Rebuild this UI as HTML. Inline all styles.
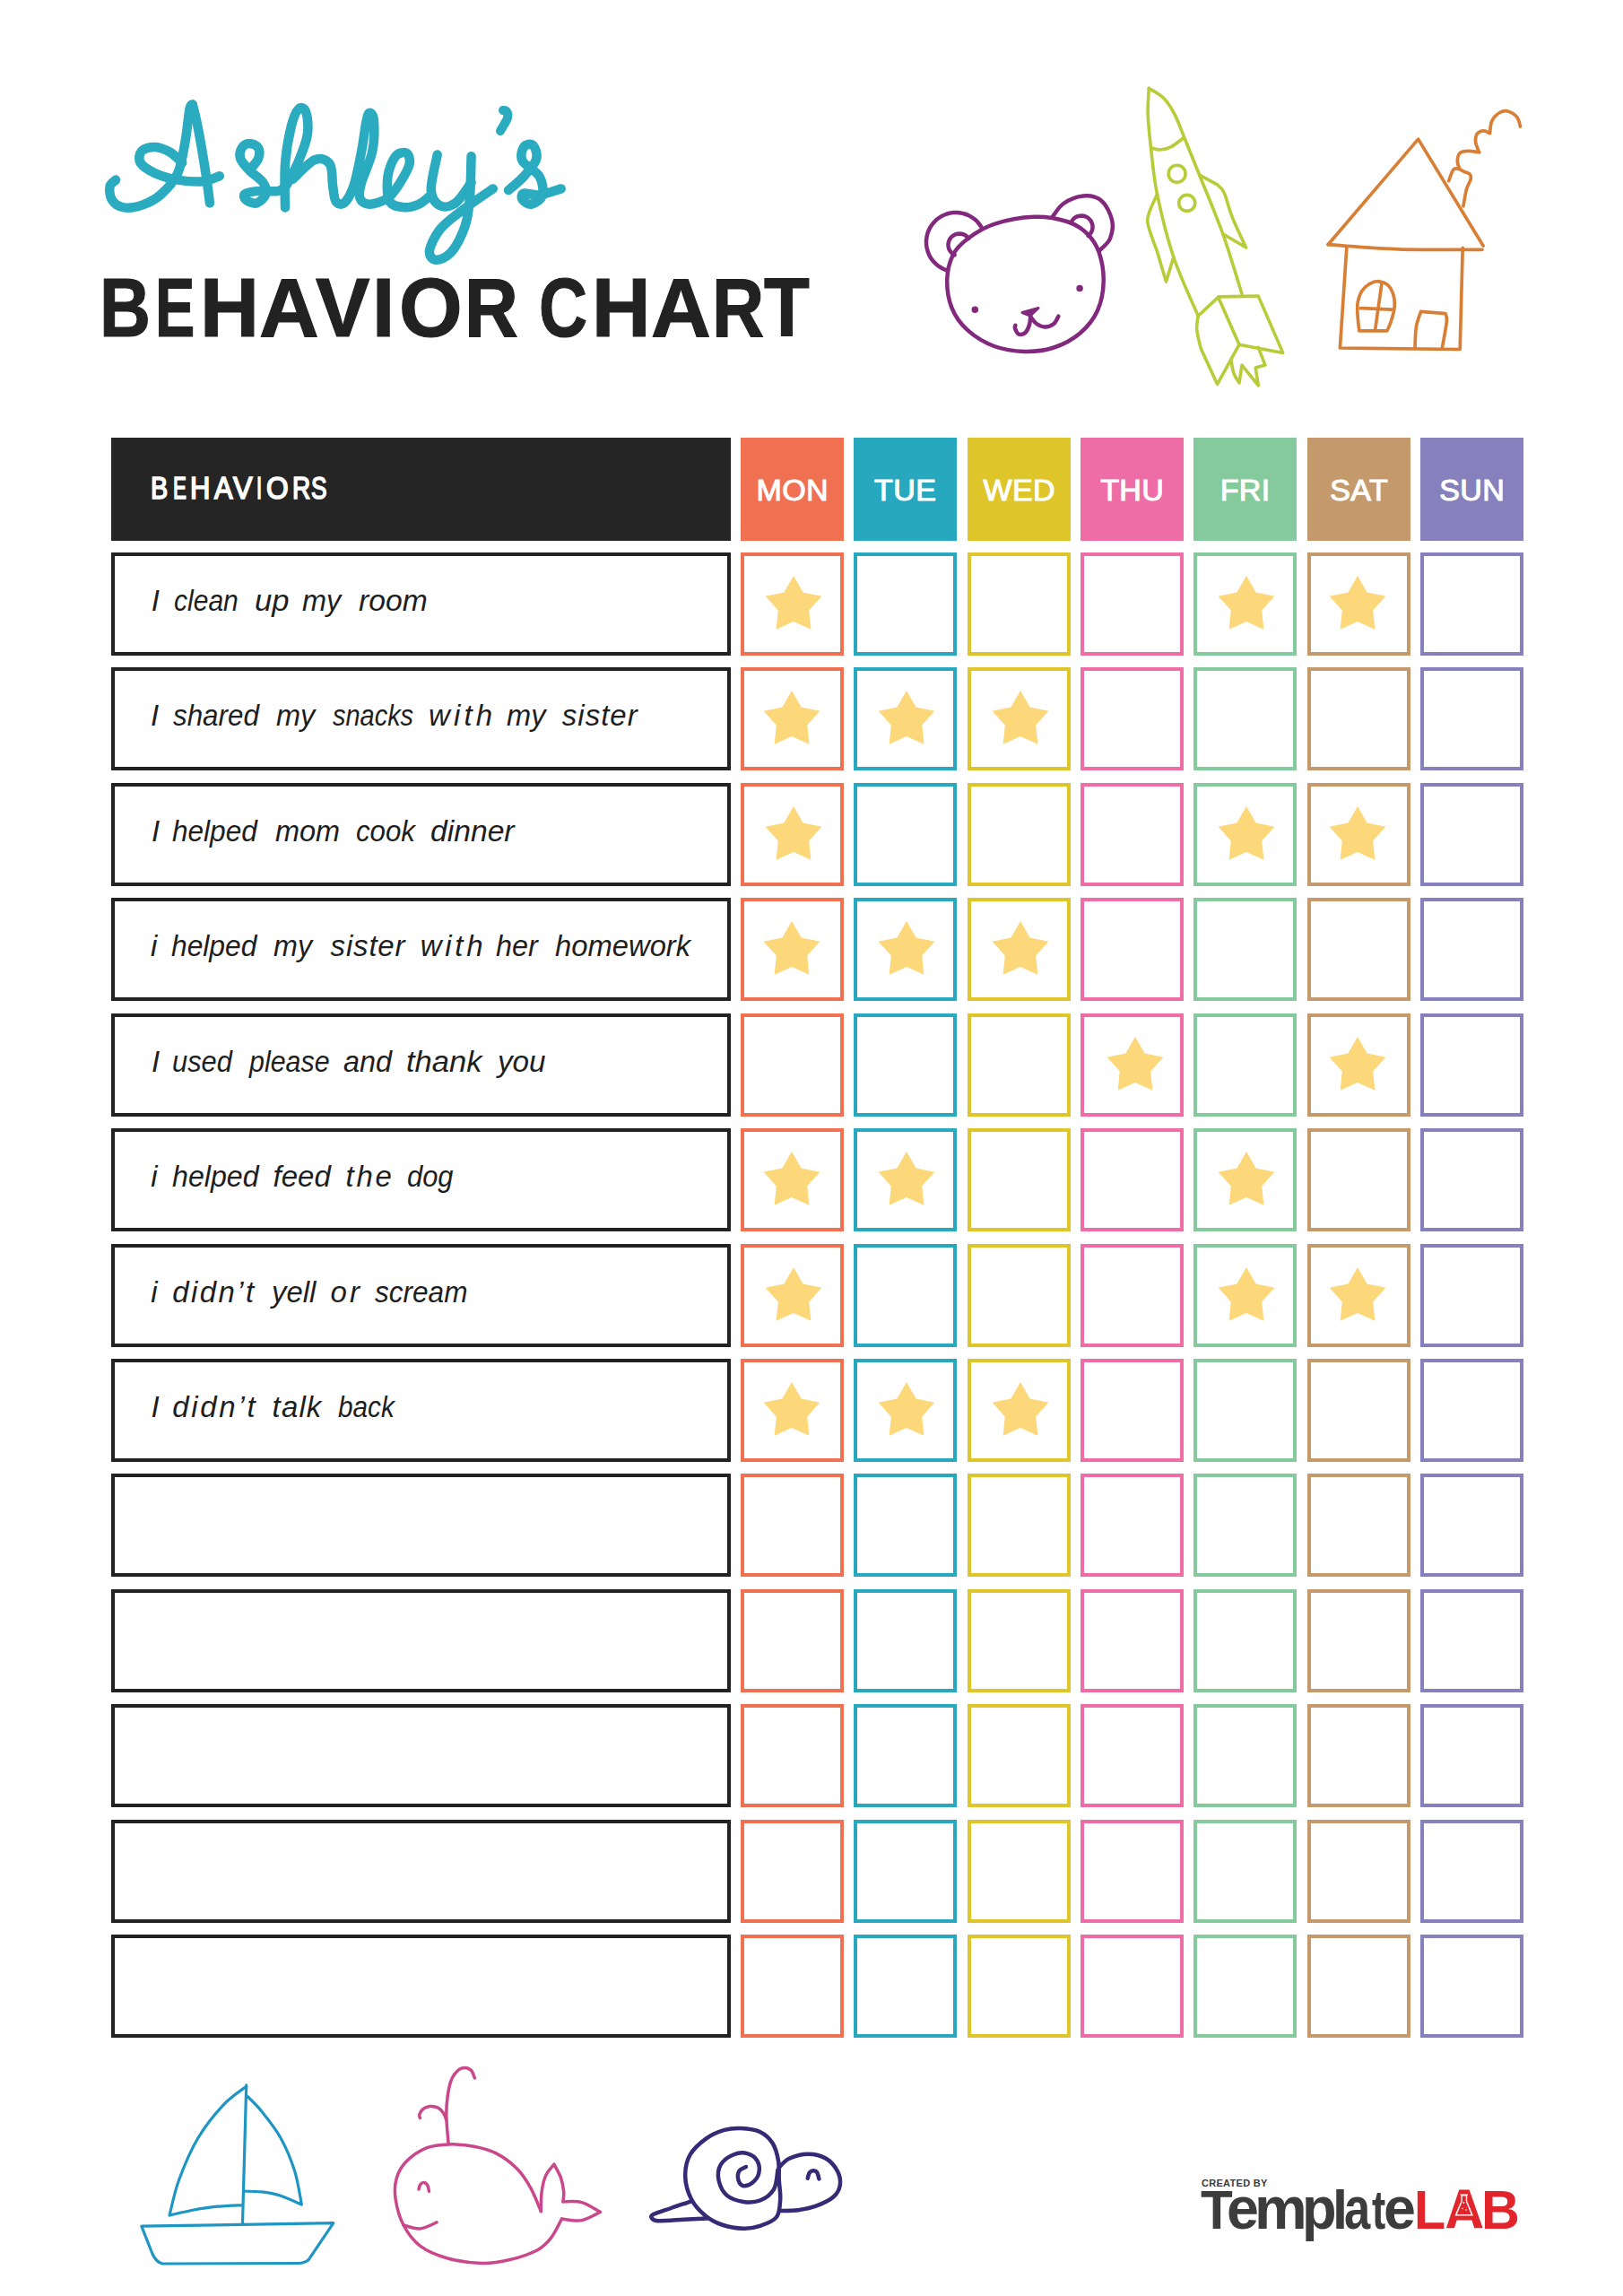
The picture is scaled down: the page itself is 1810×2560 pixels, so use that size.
<!DOCTYPE html>
<html><head><meta charset="utf-8"><style>
html,body{margin:0;padding:0;background:#fff;}
body{width:1810px;height:2560px;position:relative;overflow:hidden;font-family:"Liberation Sans",sans-serif;}
.hdr{position:absolute;background:#252525;}
.bh{position:absolute;left:43px;top:35.5px;color:#fff;font-weight:normal;-webkit-text-stroke:1.1px #fff;font-size:35px;line-height:40px;letter-spacing:-0.35px;}
.dh{position:absolute;top:488px;width:115px;height:115px;color:#fff;font-weight:normal;-webkit-text-stroke:1.1px #fff;font-size:34px;line-height:117px;text-align:center;letter-spacing:0.4px;text-indent:0.4px;}
.row{position:absolute;left:124px;width:691px;height:115px;box-sizing:border-box;border:4px solid #222;}
.bt{position:absolute;left:39.5px;top:30px;font-style:italic;font-size:33px;line-height:40px;color:#1e1e1e;letter-spacing:0.92px;word-spacing:3.7px;white-space:nowrap;}
.cell{position:absolute;width:115px;height:115px;box-sizing:border-box;border:4px solid;}
.star{position:absolute;}
.title{position:absolute;left:0;top:293px;width:1000px;height:100px;font-weight:bold;font-size:92px;line-height:100px;color:#222;white-space:nowrap;}
.title span{position:absolute;top:0;transform-origin:0 0;-webkit-text-stroke:1.2px #222;}
.lg1{position:absolute;left:1340px;top:2427px;font-weight:bold;font-size:11px;line-height:14px;color:#3a3a3a;letter-spacing:0.3px;}
.lg2{position:absolute;left:1339px;top:2431.5px;font-weight:bold;font-size:62px;line-height:64px;color:#3c3c3c;letter-spacing:-2.6px;white-space:nowrap;}
.lab{color:#E1252B;letter-spacing:-3.5px;margin-left:-8px;}

.w{position:absolute;font-style:italic;font-size:33px;line-height:40px;color:#1e1e1e;white-space:nowrap;transform-origin:0 0;}

.bh2{position:absolute;left:0;top:523.5px;width:1px;height:40px;color:#fff;font-size:35px;line-height:40px;}
.bh2 span{position:absolute;top:0;transform-origin:0 0;-webkit-text-stroke:1.7px #fff;}

.lg3{position:absolute;top:2431.5px;font-weight:bold;font-size:62px;line-height:64px;color:#E1252B;transform-origin:0 0;}

.lg4{position:absolute;top:2431.5px;font-weight:bold;font-size:62px;line-height:64px;color:#3c3c3c;transform-origin:0 52.5px;}

</style></head><body>

<div class="title"><span style="left:110.9px;transform:scaleX(0.857)">B</span><span style="left:173.3px;transform:scaleX(0.723)">E</span><span style="left:222.8px;transform:scaleX(0.993)">H</span><span style="left:288.8px;transform:scaleX(1.003)">A</span><span style="left:352.0px;transform:scaleX(0.985)">V</span><span style="left:415.1px;transform:scaleX(0.986)">I</span><span style="left:444.7px;transform:scaleX(0.986)">O</span><span style="left:518.1px;transform:scaleX(0.900)">R</span><span style="left:601.3px;transform:scaleX(0.813)">C</span><span style="left:659.9px;transform:scaleX(0.985)">H</span><span style="left:725.8px;transform:scaleX(1.005)">A</span><span style="left:793.7px;transform:scaleX(0.876)">R</span><span style="left:851.6px;transform:scaleX(0.904)">T</span></div>
<div class="hdr" style="left:124px;top:488px;width:691px;height:115px"></div><div class="bh2"><span style="left:168.3px;transform:scaleX(0.821)">B</span><span style="left:192.6px;transform:scaleX(0.637)">E</span><span style="left:211.9px;transform:scaleX(0.885)">H</span><span style="left:238.8px;transform:scaleX(0.878)">A</span><span style="left:259.9px;transform:scaleX(0.922)">V</span><span style="left:285.9px;transform:scaleX(0.625)">I</span><span style="left:296.9px;transform:scaleX(0.904)">O</span><span style="left:325.8px;transform:scaleX(0.800)">R</span><span style="left:347.2px;transform:scaleX(0.750)">S</span></div>
<div class="dh" style="left:826px;background:#F07052">MON</div>
<div class="dh" style="left:952px;background:#27A8BE">TUE</div>
<div class="dh" style="left:1079px;background:#DEC52A">WED</div>
<div class="dh" style="left:1205px;background:#EE6DA6">THU</div>
<div class="dh" style="left:1331px;background:#84CA9C">FRI</div>
<div class="dh" style="left:1458px;background:#C49A6C">SAT</div>
<div class="dh" style="left:1584px;background:#8680BC">SUN</div>
<div class="row" style="top:616px"></div>
<span class="w" style="left:168.7px;top:650px;transform:scaleX(1.000);letter-spacing:0.00px">I</span>
<span class="w" style="left:193.5px;top:650px;transform:scaleX(0.910);letter-spacing:0.00px">clean</span>
<span class="w" style="left:283.6px;top:650px;transform:scaleX(1.047);letter-spacing:0.00px">up</span>
<span class="w" style="left:337.4px;top:650px;transform:scaleX(0.982);letter-spacing:0.00px">my</span>
<span class="w" style="left:400.4px;top:650px;transform:scaleX(1.020);letter-spacing:0.00px">room</span>
<div class="cell" style="left:826px;top:616px;border-color:#F07052"></div>
<svg class="star" style="left:850.9px;top:640.5px" width="68" height="68" viewBox="-34 -34 68 68"><polygon fill="#FDD87A" points="0,-33 10.6,-14.6 31.4,-10.2 17.2,5.6 19.4,26.7 0,18.1 -19.4,26.7 -17.2,5.6 -31.4,-10.2 -10.6,-14.6"/></svg>
<div class="cell" style="left:952px;top:616px;border-color:#27A8BE"></div>
<div class="cell" style="left:1079px;top:616px;border-color:#DEC52A"></div>
<div class="cell" style="left:1205px;top:616px;border-color:#EE6DA6"></div>
<div class="cell" style="left:1331px;top:616px;border-color:#84CA9C"></div>
<svg class="star" style="left:1355.5px;top:640.5px" width="68" height="68" viewBox="-34 -34 68 68"><polygon fill="#FDD87A" points="0,-33 10.6,-14.6 31.4,-10.2 17.2,5.6 19.4,26.7 0,18.1 -19.4,26.7 -17.2,5.6 -31.4,-10.2 -10.6,-14.6"/></svg>
<div class="cell" style="left:1458px;top:616px;border-color:#C49A6C"></div>
<svg class="star" style="left:1480.3px;top:640.5px" width="68" height="68" viewBox="-34 -34 68 68"><polygon fill="#FDD87A" points="0,-33 10.6,-14.6 31.4,-10.2 17.2,5.6 19.4,26.7 0,18.1 -19.4,26.7 -17.2,5.6 -31.4,-10.2 -10.6,-14.6"/></svg>
<div class="cell" style="left:1584px;top:616px;border-color:#8680BC"></div>
<div class="row" style="top:744px"></div>
<span class="w" style="left:168.1px;top:778px;transform:scaleX(1.000);letter-spacing:0.00px">I</span>
<span class="w" style="left:193.2px;top:778px;transform:scaleX(0.950);letter-spacing:0.00px">shared</span>
<span class="w" style="left:308.0px;top:778px;transform:scaleX(0.984);letter-spacing:0.00px">my</span>
<span class="w" style="left:371.0px;top:778px;transform:scaleX(0.877);letter-spacing:0.00px">snacks</span>
<span class="w" style="left:478.0px;top:778px;transform:scaleX(1.000);letter-spacing:4.13px">with</span>
<span class="w" style="left:564.8px;top:778px;transform:scaleX(0.987);letter-spacing:0.00px">my</span>
<span class="w" style="left:626.8px;top:778px;transform:scaleX(1.000);letter-spacing:1.00px">sister</span>
<div class="cell" style="left:826px;top:744px;border-color:#F07052"></div>
<svg class="star" style="left:848.7px;top:768.5px" width="68" height="68" viewBox="-34 -34 68 68"><polygon fill="#FDD87A" points="0,-33 10.6,-14.6 31.4,-10.2 17.2,5.6 19.4,26.7 0,18.1 -19.4,26.7 -17.2,5.6 -31.4,-10.2 -10.6,-14.6"/></svg>
<div class="cell" style="left:952px;top:744px;border-color:#27A8BE"></div>
<svg class="star" style="left:977.3px;top:768.5px" width="68" height="68" viewBox="-34 -34 68 68"><polygon fill="#FDD87A" points="0,-33 10.6,-14.6 31.4,-10.2 17.2,5.6 19.4,26.7 0,18.1 -19.4,26.7 -17.2,5.6 -31.4,-10.2 -10.6,-14.6"/></svg>
<div class="cell" style="left:1079px;top:744px;border-color:#DEC52A"></div>
<svg class="star" style="left:1103.7px;top:768.5px" width="68" height="68" viewBox="-34 -34 68 68"><polygon fill="#FDD87A" points="0,-33 10.6,-14.6 31.4,-10.2 17.2,5.6 19.4,26.7 0,18.1 -19.4,26.7 -17.2,5.6 -31.4,-10.2 -10.6,-14.6"/></svg>
<div class="cell" style="left:1205px;top:744px;border-color:#EE6DA6"></div>
<div class="cell" style="left:1331px;top:744px;border-color:#84CA9C"></div>
<div class="cell" style="left:1458px;top:744px;border-color:#C49A6C"></div>
<div class="cell" style="left:1584px;top:744px;border-color:#8680BC"></div>
<div class="row" style="top:873px"></div>
<span class="w" style="left:168.9px;top:907px;transform:scaleX(1.000);letter-spacing:0.00px">I</span>
<span class="w" style="left:192.0px;top:907px;transform:scaleX(0.956);letter-spacing:0.00px">helped</span>
<span class="w" style="left:307.4px;top:907px;transform:scaleX(0.983);letter-spacing:0.00px">mom</span>
<span class="w" style="left:397.1px;top:907px;transform:scaleX(0.946);letter-spacing:0.00px">cook</span>
<span class="w" style="left:480.4px;top:907px;transform:scaleX(1.020);letter-spacing:0.00px">dinner</span>
<div class="cell" style="left:826px;top:873px;border-color:#F07052"></div>
<svg class="star" style="left:850.9px;top:897.5px" width="68" height="68" viewBox="-34 -34 68 68"><polygon fill="#FDD87A" points="0,-33 10.6,-14.6 31.4,-10.2 17.2,5.6 19.4,26.7 0,18.1 -19.4,26.7 -17.2,5.6 -31.4,-10.2 -10.6,-14.6"/></svg>
<div class="cell" style="left:952px;top:873px;border-color:#27A8BE"></div>
<div class="cell" style="left:1079px;top:873px;border-color:#DEC52A"></div>
<div class="cell" style="left:1205px;top:873px;border-color:#EE6DA6"></div>
<div class="cell" style="left:1331px;top:873px;border-color:#84CA9C"></div>
<svg class="star" style="left:1355.5px;top:897.5px" width="68" height="68" viewBox="-34 -34 68 68"><polygon fill="#FDD87A" points="0,-33 10.6,-14.6 31.4,-10.2 17.2,5.6 19.4,26.7 0,18.1 -19.4,26.7 -17.2,5.6 -31.4,-10.2 -10.6,-14.6"/></svg>
<div class="cell" style="left:1458px;top:873px;border-color:#C49A6C"></div>
<svg class="star" style="left:1480.3px;top:897.5px" width="68" height="68" viewBox="-34 -34 68 68"><polygon fill="#FDD87A" points="0,-33 10.6,-14.6 31.4,-10.2 17.2,5.6 19.4,26.7 0,18.1 -19.4,26.7 -17.2,5.6 -31.4,-10.2 -10.6,-14.6"/></svg>
<div class="cell" style="left:1584px;top:873px;border-color:#8680BC"></div>
<div class="row" style="top:1001px"></div>
<span class="w" style="left:168.0px;top:1035px;transform:scaleX(1.000);letter-spacing:0.00px">i</span>
<span class="w" style="left:191.0px;top:1035px;transform:scaleX(0.962);letter-spacing:0.00px">helped</span>
<span class="w" style="left:305.4px;top:1035px;transform:scaleX(0.978);letter-spacing:0.00px">my</span>
<span class="w" style="left:368.6px;top:1035px;transform:scaleX(1.000);letter-spacing:0.82px">sister</span>
<span class="w" style="left:468.8px;top:1035px;transform:scaleX(1.000);letter-spacing:3.70px">with</span>
<span class="w" style="left:553.0px;top:1035px;transform:scaleX(0.980);letter-spacing:0.00px">her</span>
<span class="w" style="left:619.2px;top:1035px;transform:scaleX(0.993);letter-spacing:0.00px">homework</span>
<div class="cell" style="left:826px;top:1001px;border-color:#F07052"></div>
<svg class="star" style="left:848.7px;top:1025.5px" width="68" height="68" viewBox="-34 -34 68 68"><polygon fill="#FDD87A" points="0,-33 10.6,-14.6 31.4,-10.2 17.2,5.6 19.4,26.7 0,18.1 -19.4,26.7 -17.2,5.6 -31.4,-10.2 -10.6,-14.6"/></svg>
<div class="cell" style="left:952px;top:1001px;border-color:#27A8BE"></div>
<svg class="star" style="left:977.3px;top:1025.5px" width="68" height="68" viewBox="-34 -34 68 68"><polygon fill="#FDD87A" points="0,-33 10.6,-14.6 31.4,-10.2 17.2,5.6 19.4,26.7 0,18.1 -19.4,26.7 -17.2,5.6 -31.4,-10.2 -10.6,-14.6"/></svg>
<div class="cell" style="left:1079px;top:1001px;border-color:#DEC52A"></div>
<svg class="star" style="left:1103.7px;top:1025.5px" width="68" height="68" viewBox="-34 -34 68 68"><polygon fill="#FDD87A" points="0,-33 10.6,-14.6 31.4,-10.2 17.2,5.6 19.4,26.7 0,18.1 -19.4,26.7 -17.2,5.6 -31.4,-10.2 -10.6,-14.6"/></svg>
<div class="cell" style="left:1205px;top:1001px;border-color:#EE6DA6"></div>
<div class="cell" style="left:1331px;top:1001px;border-color:#84CA9C"></div>
<div class="cell" style="left:1458px;top:1001px;border-color:#C49A6C"></div>
<div class="cell" style="left:1584px;top:1001px;border-color:#8680BC"></div>
<div class="row" style="top:1130px"></div>
<span class="w" style="left:168.9px;top:1164px;transform:scaleX(1.000);letter-spacing:0.00px">I</span>
<span class="w" style="left:192.3px;top:1164px;transform:scaleX(0.934);letter-spacing:0.00px">used</span>
<span class="w" style="left:277.5px;top:1164px;transform:scaleX(0.921);letter-spacing:0.00px">please</span>
<span class="w" style="left:383.2px;top:1164px;transform:scaleX(0.980);letter-spacing:0.00px">and</span>
<span class="w" style="left:453.0px;top:1164px;transform:scaleX(1.046);letter-spacing:0.00px">thank</span>
<span class="w" style="left:555.2px;top:1164px;transform:scaleX(1.007);letter-spacing:0.00px">you</span>
<div class="cell" style="left:826px;top:1130px;border-color:#F07052"></div>
<div class="cell" style="left:952px;top:1130px;border-color:#27A8BE"></div>
<div class="cell" style="left:1079px;top:1130px;border-color:#DEC52A"></div>
<div class="cell" style="left:1205px;top:1130px;border-color:#EE6DA6"></div>
<svg class="star" style="left:1232.4px;top:1154.5px" width="68" height="68" viewBox="-34 -34 68 68"><polygon fill="#FDD87A" points="0,-33 10.6,-14.6 31.4,-10.2 17.2,5.6 19.4,26.7 0,18.1 -19.4,26.7 -17.2,5.6 -31.4,-10.2 -10.6,-14.6"/></svg>
<div class="cell" style="left:1331px;top:1130px;border-color:#84CA9C"></div>
<div class="cell" style="left:1458px;top:1130px;border-color:#C49A6C"></div>
<svg class="star" style="left:1480.3px;top:1154.5px" width="68" height="68" viewBox="-34 -34 68 68"><polygon fill="#FDD87A" points="0,-33 10.6,-14.6 31.4,-10.2 17.2,5.6 19.4,26.7 0,18.1 -19.4,26.7 -17.2,5.6 -31.4,-10.2 -10.6,-14.6"/></svg>
<div class="cell" style="left:1584px;top:1130px;border-color:#8680BC"></div>
<div class="row" style="top:1258px"></div>
<span class="w" style="left:168.2px;top:1292px;transform:scaleX(1.000);letter-spacing:0.00px">i</span>
<span class="w" style="left:192.2px;top:1292px;transform:scaleX(0.974);letter-spacing:0.00px">helped</span>
<span class="w" style="left:304.6px;top:1292px;transform:scaleX(1.000);letter-spacing:0.00px">feed</span>
<span class="w" style="left:385.6px;top:1292px;transform:scaleX(1.000);letter-spacing:2.65px">the</span>
<span class="w" style="left:454.3px;top:1292px;transform:scaleX(0.935);letter-spacing:0.00px">dog</span>
<div class="cell" style="left:826px;top:1258px;border-color:#F07052"></div>
<svg class="star" style="left:848.7px;top:1282.5px" width="68" height="68" viewBox="-34 -34 68 68"><polygon fill="#FDD87A" points="0,-33 10.6,-14.6 31.4,-10.2 17.2,5.6 19.4,26.7 0,18.1 -19.4,26.7 -17.2,5.6 -31.4,-10.2 -10.6,-14.6"/></svg>
<div class="cell" style="left:952px;top:1258px;border-color:#27A8BE"></div>
<svg class="star" style="left:977.3px;top:1282.5px" width="68" height="68" viewBox="-34 -34 68 68"><polygon fill="#FDD87A" points="0,-33 10.6,-14.6 31.4,-10.2 17.2,5.6 19.4,26.7 0,18.1 -19.4,26.7 -17.2,5.6 -31.4,-10.2 -10.6,-14.6"/></svg>
<div class="cell" style="left:1079px;top:1258px;border-color:#DEC52A"></div>
<div class="cell" style="left:1205px;top:1258px;border-color:#EE6DA6"></div>
<div class="cell" style="left:1331px;top:1258px;border-color:#84CA9C"></div>
<svg class="star" style="left:1355.5px;top:1282.5px" width="68" height="68" viewBox="-34 -34 68 68"><polygon fill="#FDD87A" points="0,-33 10.6,-14.6 31.4,-10.2 17.2,5.6 19.4,26.7 0,18.1 -19.4,26.7 -17.2,5.6 -31.4,-10.2 -10.6,-14.6"/></svg>
<div class="cell" style="left:1458px;top:1258px;border-color:#C49A6C"></div>
<div class="cell" style="left:1584px;top:1258px;border-color:#8680BC"></div>
<div class="row" style="top:1387px"></div>
<span class="w" style="left:168.2px;top:1421px;transform:scaleX(1.000);letter-spacing:0.00px">i</span>
<span class="w" style="left:192.2px;top:1421px;transform:scaleX(1.000);letter-spacing:2.44px">didn’t</span>
<span class="w" style="left:303.2px;top:1421px;transform:scaleX(0.994);letter-spacing:0.00px">yell</span>
<span class="w" style="left:368.6px;top:1421px;transform:scaleX(1.000);letter-spacing:3.10px">or</span>
<span class="w" style="left:417.8px;top:1421px;transform:scaleX(0.956);letter-spacing:0.00px">scream</span>
<div class="cell" style="left:826px;top:1387px;border-color:#F07052"></div>
<svg class="star" style="left:850.9px;top:1411.5px" width="68" height="68" viewBox="-34 -34 68 68"><polygon fill="#FDD87A" points="0,-33 10.6,-14.6 31.4,-10.2 17.2,5.6 19.4,26.7 0,18.1 -19.4,26.7 -17.2,5.6 -31.4,-10.2 -10.6,-14.6"/></svg>
<div class="cell" style="left:952px;top:1387px;border-color:#27A8BE"></div>
<div class="cell" style="left:1079px;top:1387px;border-color:#DEC52A"></div>
<div class="cell" style="left:1205px;top:1387px;border-color:#EE6DA6"></div>
<div class="cell" style="left:1331px;top:1387px;border-color:#84CA9C"></div>
<svg class="star" style="left:1355.5px;top:1411.5px" width="68" height="68" viewBox="-34 -34 68 68"><polygon fill="#FDD87A" points="0,-33 10.6,-14.6 31.4,-10.2 17.2,5.6 19.4,26.7 0,18.1 -19.4,26.7 -17.2,5.6 -31.4,-10.2 -10.6,-14.6"/></svg>
<div class="cell" style="left:1458px;top:1387px;border-color:#C49A6C"></div>
<svg class="star" style="left:1480.3px;top:1411.5px" width="68" height="68" viewBox="-34 -34 68 68"><polygon fill="#FDD87A" points="0,-33 10.6,-14.6 31.4,-10.2 17.2,5.6 19.4,26.7 0,18.1 -19.4,26.7 -17.2,5.6 -31.4,-10.2 -10.6,-14.6"/></svg>
<div class="cell" style="left:1584px;top:1387px;border-color:#8680BC"></div>
<div class="row" style="top:1515px"></div>
<span class="w" style="left:168.4px;top:1549px;transform:scaleX(1.000);letter-spacing:0.00px">I</span>
<span class="w" style="left:192.2px;top:1549px;transform:scaleX(1.000);letter-spacing:2.70px">didn’t</span>
<span class="w" style="left:303.6px;top:1549px;transform:scaleX(1.000);letter-spacing:1.13px">talk</span>
<span class="w" style="left:377.0px;top:1549px;transform:scaleX(0.901);letter-spacing:0.00px">back</span>
<div class="cell" style="left:826px;top:1515px;border-color:#F07052"></div>
<svg class="star" style="left:848.7px;top:1539.5px" width="68" height="68" viewBox="-34 -34 68 68"><polygon fill="#FDD87A" points="0,-33 10.6,-14.6 31.4,-10.2 17.2,5.6 19.4,26.7 0,18.1 -19.4,26.7 -17.2,5.6 -31.4,-10.2 -10.6,-14.6"/></svg>
<div class="cell" style="left:952px;top:1515px;border-color:#27A8BE"></div>
<svg class="star" style="left:977.3px;top:1539.5px" width="68" height="68" viewBox="-34 -34 68 68"><polygon fill="#FDD87A" points="0,-33 10.6,-14.6 31.4,-10.2 17.2,5.6 19.4,26.7 0,18.1 -19.4,26.7 -17.2,5.6 -31.4,-10.2 -10.6,-14.6"/></svg>
<div class="cell" style="left:1079px;top:1515px;border-color:#DEC52A"></div>
<svg class="star" style="left:1103.7px;top:1539.5px" width="68" height="68" viewBox="-34 -34 68 68"><polygon fill="#FDD87A" points="0,-33 10.6,-14.6 31.4,-10.2 17.2,5.6 19.4,26.7 0,18.1 -19.4,26.7 -17.2,5.6 -31.4,-10.2 -10.6,-14.6"/></svg>
<div class="cell" style="left:1205px;top:1515px;border-color:#EE6DA6"></div>
<div class="cell" style="left:1331px;top:1515px;border-color:#84CA9C"></div>
<div class="cell" style="left:1458px;top:1515px;border-color:#C49A6C"></div>
<div class="cell" style="left:1584px;top:1515px;border-color:#8680BC"></div>
<div class="row" style="top:1643px"></div>
<div class="cell" style="left:826px;top:1643px;border-color:#F07052"></div>
<div class="cell" style="left:952px;top:1643px;border-color:#27A8BE"></div>
<div class="cell" style="left:1079px;top:1643px;border-color:#DEC52A"></div>
<div class="cell" style="left:1205px;top:1643px;border-color:#EE6DA6"></div>
<div class="cell" style="left:1331px;top:1643px;border-color:#84CA9C"></div>
<div class="cell" style="left:1458px;top:1643px;border-color:#C49A6C"></div>
<div class="cell" style="left:1584px;top:1643px;border-color:#8680BC"></div>
<div class="row" style="top:1772px"></div>
<div class="cell" style="left:826px;top:1772px;border-color:#F07052"></div>
<div class="cell" style="left:952px;top:1772px;border-color:#27A8BE"></div>
<div class="cell" style="left:1079px;top:1772px;border-color:#DEC52A"></div>
<div class="cell" style="left:1205px;top:1772px;border-color:#EE6DA6"></div>
<div class="cell" style="left:1331px;top:1772px;border-color:#84CA9C"></div>
<div class="cell" style="left:1458px;top:1772px;border-color:#C49A6C"></div>
<div class="cell" style="left:1584px;top:1772px;border-color:#8680BC"></div>
<div class="row" style="top:1900px"></div>
<div class="cell" style="left:826px;top:1900px;border-color:#F07052"></div>
<div class="cell" style="left:952px;top:1900px;border-color:#27A8BE"></div>
<div class="cell" style="left:1079px;top:1900px;border-color:#DEC52A"></div>
<div class="cell" style="left:1205px;top:1900px;border-color:#EE6DA6"></div>
<div class="cell" style="left:1331px;top:1900px;border-color:#84CA9C"></div>
<div class="cell" style="left:1458px;top:1900px;border-color:#C49A6C"></div>
<div class="cell" style="left:1584px;top:1900px;border-color:#8680BC"></div>
<div class="row" style="top:2029px"></div>
<div class="cell" style="left:826px;top:2029px;border-color:#F07052"></div>
<div class="cell" style="left:952px;top:2029px;border-color:#27A8BE"></div>
<div class="cell" style="left:1079px;top:2029px;border-color:#DEC52A"></div>
<div class="cell" style="left:1205px;top:2029px;border-color:#EE6DA6"></div>
<div class="cell" style="left:1331px;top:2029px;border-color:#84CA9C"></div>
<div class="cell" style="left:1458px;top:2029px;border-color:#C49A6C"></div>
<div class="cell" style="left:1584px;top:2029px;border-color:#8680BC"></div>
<div class="row" style="top:2157px"></div>
<div class="cell" style="left:826px;top:2157px;border-color:#F07052"></div>
<div class="cell" style="left:952px;top:2157px;border-color:#27A8BE"></div>
<div class="cell" style="left:1079px;top:2157px;border-color:#DEC52A"></div>
<div class="cell" style="left:1205px;top:2157px;border-color:#EE6DA6"></div>
<div class="cell" style="left:1331px;top:2157px;border-color:#84CA9C"></div>
<div class="cell" style="left:1458px;top:2157px;border-color:#C49A6C"></div>
<div class="cell" style="left:1584px;top:2157px;border-color:#8680BC"></div>
<svg style="position:absolute;left:0;top:0" width="1810" height="2560" viewBox="0 0 1810 2560"><g fill="none" stroke="#2AABC0" stroke-width="10.5" stroke-linecap="round" stroke-linejoin="round"><path d="M129.1,200.6 C128.0,201.8 123.2,204.3 122.5,208.1 C121.8,211.8 122.4,219.2 125.0,223.1 C127.6,227.0 132.5,230.6 138.3,231.4 C144.1,232.2 153.0,230.6 159.9,228.1 C166.8,225.6 173.5,222.3 179.9,216.5 C186.3,210.7 193.8,202.9 198.2,193.2 C202.6,183.5 204.3,170.1 206.5,158.2 C208.7,146.3 210.1,128.5 211.5,121.6 C212.9,114.7 214.2,117.4 214.8,116.6"/><path d="M214.8,116.6 C215.8,120.8 218.7,131.9 220.6,141.6 C222.5,151.3 224.7,164.1 226.5,174.9 C228.3,185.7 230.2,197.9 231.4,206.5 C232.6,215.1 233.5,223.1 233.9,226.4"/><path d="M244.8,196.2 C241.8,197.2 234.3,201.6 226.5,202.3 C218.7,203.0 207.1,202.1 198.2,200.6 C189.3,199.1 180.1,196.4 173.2,193.2 C166.3,190.0 159.1,185.7 156.6,181.5 C154.1,177.3 155.4,171.1 158.2,168.2 C161.0,165.3 167.9,163.7 173.2,164.0 C178.5,164.3 184.9,167.0 189.9,169.9 C194.9,172.8 201.0,179.6 203.2,181.5"/><path d="M278.0,189.8 C279.7,187.7 286.3,181.2 288.0,177.0 C289.7,172.8 289.7,167.8 288.0,164.9 C286.3,162.1 281.1,159.9 278.0,159.9 C274.9,159.9 271.4,162.1 269.7,164.9 C268.0,167.7 266.6,172.3 268.0,176.5 C269.4,180.7 273.8,185.4 278.0,189.8 C282.2,194.2 289.9,198.7 293.0,203.1 C296.1,207.5 297.4,212.6 296.3,216.5 C295.2,220.4 289.9,225.3 286.3,226.4 C282.7,227.5 276.9,224.8 274.7,223.1 C272.5,221.4 271.1,218.2 273.0,216.5 C274.9,214.8 280.2,213.7 286.3,213.1 C292.4,212.5 304.3,213.9 309.6,213.1 C314.9,212.2 316.6,208.8 318.0,208.0"/><path d="M318.0,231.4 C318.0,223.4 316.9,198.2 318.0,183.2 C319.1,168.2 322.1,151.9 324.6,141.6 C327.1,131.3 330.1,124.4 332.9,121.6 C335.7,118.8 339.5,120.3 341.2,125.0 C342.9,129.7 344.3,140.8 342.9,149.9 C341.5,159.1 336.8,170.5 332.9,179.9 C329.0,189.3 321.8,202.1 319.6,206.5"/><path d="M326.3,199.8 C330.4,196.2 344.3,181.0 351.2,178.2 C358.1,175.4 364.6,178.2 367.9,183.2 C371.2,188.2 370.1,201.2 371.2,208.1 C372.3,215.0 372.4,221.4 374.5,224.4 C376.6,227.4 380.7,229.0 384.0,226.1 C387.3,223.2 391.3,216.5 394.5,207.0 C397.7,197.5 400.9,180.5 403.1,169.0 C405.4,157.5 406.6,145.2 408.0,138.0 C409.4,130.8 410.3,126.5 411.8,125.9 C413.3,125.3 416.3,127.3 416.9,134.5 C417.5,141.7 417.5,157.5 415.2,169.0 C412.9,180.5 405.4,194.9 403.1,203.5 C400.8,212.1 399.9,216.8 401.4,220.8 C402.8,224.8 406.6,227.7 411.8,227.7 C417.0,227.7 426.8,224.8 432.5,220.8 C438.2,216.8 442.3,209.8 446.3,203.5 C450.3,197.2 455.5,188.3 456.6,182.8 C457.8,177.3 455.8,172.1 453.2,170.7 C450.6,169.3 444.6,169.9 441.1,174.2 C437.7,178.5 433.6,188.3 432.5,196.6 C431.4,204.9 431.3,218.4 434.2,224.2 C437.1,229.9 444.2,230.5 449.7,231.1 C455.2,231.7 461.8,230.0 467.0,227.7 C472.2,225.4 478.5,219.0 480.8,217.3"/><path d="M487.7,172.5 C486.6,179.1 480.2,202.6 480.8,212.1 C481.4,221.6 486.5,227.1 491.1,229.4 C495.7,231.7 502.6,230.3 508.4,226.0 C514.1,221.7 522.7,207.2 525.6,203.5"/><path d="M525.6,174.2 C525.3,182.0 525.0,207.9 523.9,220.8 C522.8,233.7 522.2,241.7 518.7,251.8 C515.2,261.9 508.6,274.9 503.2,281.2 C497.8,287.5 490.0,290.1 486.0,289.8 C482.0,289.5 478.1,285.1 479.0,279.4 C479.9,273.6 485.1,262.8 491.1,255.3 C497.2,247.8 505.5,242.1 515.3,234.6 C525.1,227.1 544.0,214.4 549.8,210.4"/><path d="M567.0,212.1 C569.9,209.5 579.1,202.3 584.3,196.6 C589.5,190.8 596.4,183.3 598.1,177.6 C599.8,171.8 596.9,164.4 594.6,162.1 C592.3,159.8 586.3,160.9 584.3,163.8 C582.3,166.7 579.7,173.9 582.6,179.4 C585.5,184.9 597.8,190.3 601.5,196.6 C605.2,202.9 606.4,212.1 605.0,217.3 C603.6,222.5 596.6,226.8 592.9,227.7 C589.2,228.6 584.0,224.5 582.6,222.5 C581.2,220.5 581.1,216.5 584.3,215.6 C587.4,214.7 594.6,218.2 601.5,217.3 C608.4,216.4 621.7,211.6 625.7,210.4"/></g><path d="M561,123 C566,122 568,128 565,134 L558,146" fill="none" stroke="#2AABC0" stroke-width="10" stroke-linecap="round"/><g fill="none" stroke="#82297E" stroke-width="4.5" stroke-linecap="round" stroke-linejoin="round"><path d="M1153.1,241.8 C1166.6,241.3 1180.2,243.9 1190.0,247.0 C1199.8,250.1 1206.3,254.6 1212.2,260.3 C1218.1,266.0 1222.4,272.1 1225.5,281.0 C1228.6,289.9 1230.9,302.7 1230.7,313.5 C1230.5,324.3 1228.4,336.4 1224.1,346.0 C1219.8,355.6 1212.9,364.3 1204.8,371.2 C1196.7,378.1 1185.6,384.1 1175.3,387.5 C1165.0,390.9 1153.8,392.1 1142.7,391.9 C1131.6,391.6 1119.3,389.9 1108.7,386.0 C1098.1,382.1 1087.0,375.3 1079.1,368.2 C1071.2,361.1 1065.2,352.5 1061.4,343.1 C1057.6,333.7 1056.0,321.9 1056.2,312.0 C1056.5,302.1 1059.1,291.5 1062.9,283.9 C1066.7,276.3 1071.5,271.9 1079.1,266.2 C1086.7,260.5 1096.4,254.0 1108.7,249.9 C1121.0,245.8 1139.5,242.3 1153.1,241.8Z"/><path d="M1095.1,254.5 C1094.8,253.9 1093.7,252.0 1092.9,250.9 C1092.0,249.7 1091.1,248.6 1090.2,247.5 C1089.2,246.5 1088.1,245.5 1087.0,244.6 C1085.9,243.7 1084.8,242.8 1083.6,242.1 C1082.3,241.3 1081.1,240.6 1079.8,240.0 C1078.5,239.4 1077.1,238.9 1075.8,238.5 C1074.4,238.1 1073.0,237.7 1071.6,237.5 C1070.2,237.2 1068.7,237.1 1067.3,237.0 C1065.9,237.0 1064.4,237.0 1063.0,237.1 C1061.6,237.3 1060.2,237.5 1058.8,237.8 C1057.4,238.1 1056.0,238.5 1054.6,239.0 C1053.3,239.5 1052.0,240.1 1050.7,240.8 C1049.4,241.4 1048.2,242.2 1047.0,243.0 C1045.9,243.8 1044.7,244.7 1043.7,245.7 C1042.6,246.6 1041.6,247.7 1040.7,248.8 C1039.8,249.9 1038.9,251.0 1038.2,252.3 C1037.4,253.5 1036.7,254.7 1036.1,256.0 C1035.5,257.3 1035.0,258.7 1034.5,260.0 C1034.1,261.4 1033.8,262.8 1033.5,264.2 C1033.3,265.6 1033.1,267.0 1033.0,268.5 C1033.0,269.9 1033.0,271.3 1033.1,272.8 C1033.2,274.2 1033.4,275.6 1033.8,277.0 C1034.1,278.4 1034.5,279.8 1034.9,281.1 C1035.4,282.5 1036.0,283.8 1036.6,285.1 C1037.3,286.4 1038.0,287.6 1038.9,288.8 C1039.7,289.9 1040.6,291.1 1041.5,292.1 C1042.5,293.2 1043.5,294.2 1044.6,295.1 C1045.7,296.1 1046.9,296.9 1048.1,297.7 C1049.3,298.5 1050.5,299.2 1051.8,299.8 C1053.1,300.4 1055.1,301.1 1055.8,301.4"/><path d="M1080.2,265.8 C1079.9,265.5 1079.0,264.3 1078.3,263.7 C1077.6,263.1 1076.8,262.5 1076.0,262.0 C1075.2,261.6 1074.3,261.2 1073.4,261.0 C1072.5,260.7 1071.5,260.6 1070.5,260.5 C1069.6,260.5 1068.6,260.5 1067.7,260.7 C1066.8,260.9 1065.8,261.2 1065.0,261.6 C1064.1,261.9 1063.3,262.4 1062.5,263.0 C1061.7,263.6 1061.0,264.2 1060.4,265.0 C1059.8,265.7 1059.3,266.5 1058.9,267.3 C1058.4,268.2 1058.1,269.1 1057.9,270.0 C1057.6,270.9 1057.5,271.9 1057.5,272.9 C1057.5,273.8 1057.6,274.8 1057.8,275.7 C1058.0,276.6 1058.3,277.6 1058.7,278.4 C1059.1,279.3 1059.7,280.1 1060.3,280.8 C1060.8,281.6 1061.5,282.2 1062.3,282.8 C1063.0,283.4 1064.3,284.1 1064.7,284.3"/><path d="M1174.0,241.5 C1176.0,239.1 1180.4,230.8 1186.0,227.0 C1191.6,223.2 1200.8,219.1 1207.8,218.5 C1214.8,217.9 1222.6,219.1 1228.0,223.5 C1233.4,227.9 1238.3,237.9 1240.0,245.0 C1241.7,252.1 1240.3,260.2 1238.0,266.0 C1235.7,271.8 1228.0,277.2 1226.0,279.5"/><path d="M1195.2,246.8 C1195.4,246.4 1196.2,245.2 1196.8,244.5 C1197.4,243.9 1198.1,243.2 1198.9,242.7 C1199.6,242.2 1200.4,241.8 1201.3,241.4 C1202.1,241.1 1203.0,240.8 1203.9,240.7 C1204.8,240.5 1205.8,240.5 1206.7,240.5 C1207.6,240.6 1208.5,240.7 1209.4,241.0 C1210.3,241.2 1211.1,241.6 1211.9,242.0 C1212.7,242.4 1213.5,243.0 1214.2,243.6 C1214.9,244.2 1215.5,244.9 1216.1,245.6 C1216.6,246.3 1217.1,247.1 1217.4,248.0 C1217.8,248.8 1218.1,249.7 1218.3,250.6 C1218.4,251.5 1218.5,252.4 1218.5,253.3 C1218.5,254.2 1218.3,255.2 1218.1,256.1 C1217.9,256.9 1217.6,257.8 1217.2,258.6 C1216.8,259.4 1216.2,260.2 1215.7,260.9 C1215.1,261.6 1214.0,262.5 1213.7,262.9"/><path d="M1149.4,351.2 C1149.2,353.0 1149.0,358.7 1148.0,362.0 C1147.0,365.3 1145.3,369.2 1143.3,371.0 C1141.3,372.8 1137.9,373.3 1136.0,372.5 C1134.1,371.7 1132.6,367.6 1132.0,366.0 C1131.4,364.4 1132.3,363.3 1132.4,362.8"/><path d="M1150.1,354.2 C1151.1,355.3 1153.5,359.3 1156.0,361.0 C1158.5,362.7 1161.8,364.4 1165.0,364.5 C1168.2,364.6 1172.4,363.3 1175.0,361.3 C1177.6,359.3 1179.5,354.1 1180.4,352.7"/><circle cx="1087.3" cy="345.3" r="1.5" fill="#82297E"/><circle cx="1204.1" cy="321.6" r="1.5" fill="#82297E"/><path d="M1140,348.5 L1158,343.5 L1149,352Z" fill="#82297E" stroke-width="3"/></g><g fill="none" stroke="#B6CC38" stroke-width="3.6" stroke-linecap="round" stroke-linejoin="round"><path d="M1336.2,352.2 C1331.6,341.3 1316.4,309.3 1308.8,286.7 C1301.2,264.1 1294.7,236.8 1290.5,216.5 C1286.3,196.2 1285.2,179.4 1283.5,164.7 C1281.8,149.9 1280.6,139.1 1280.2,128.0 C1279.8,117.0 1281.1,103.3 1281.3,98.4"/><path d="M1281.3,98.4 C1284.1,100.3 1293.3,104.8 1298.1,109.8 C1302.9,114.8 1306.5,120.7 1310.3,128.1 C1314.1,135.5 1316.4,142.8 1321.0,154.0 C1325.6,165.2 1330.6,177.4 1337.7,195.2 C1344.8,213.0 1355.8,238.6 1363.7,260.7 C1371.6,282.8 1381.5,316.6 1385.0,327.8"/><path d="M1283.6,164.7 C1285.2,165.1 1289.8,167.1 1293.5,167.0 C1297.2,166.9 1301.4,166.1 1305.7,163.9 C1310.0,161.7 1317.2,155.7 1319.5,154.0"/><path d="M1337.7,195.2 L1357.6,205.9 M1357.6,205.9 C1358.9,207.4 1362.4,208.9 1365.2,215.0 C1368.0,221.1 1370.2,232.2 1374.3,242.4 C1378.4,252.6 1387.0,270.4 1389.6,276.0 L1363.7,260.7"/><path d="M1290.5,216.5 C1289.0,220.1 1283.0,232.1 1281.3,237.9 C1279.6,243.8 1279.1,244.5 1280.6,251.6 C1282.1,258.7 1288.8,275.7 1290.5,280.5 L1300.4,314.1 L1308.8,286.7"/><path d="M1336.2,352.2 L1359.1,330.9 L1403.3,330.1 L1430.7,393.4 L1382.0,384.2 L1359.1,332.4"/><path d="M1336.2,352.2 C1336.0,354.7 1334.2,361.3 1334.7,367.4 C1335.2,373.5 1338.5,385.2 1339.3,388.8 L1357.6,428.4 L1382,384.2"/><path d="M1372.8,401.0 C1373.3,403.5 1374.4,411.9 1375.9,416.2 C1377.4,420.5 1381.0,425.1 1382.0,426.9 L1385,407.1 L1403.3,429.9 L1400.2,410.1 L1410.9,407.1 L1403.3,387.3"/><circle cx="1312.6" cy="193.7" r="9.5"/><circle cx="1323.7" cy="226.4" r="9"/></g><g fill="none" stroke="#D97F35" stroke-width="3.7" stroke-linecap="round" stroke-linejoin="round"><path d="M1481.1,272.7 L1581.6,155.1 L1654.1,274.1"/><path d="M1481.1,272.7 C1494.0,273.6 1530.0,276.9 1558.7,277.8 C1587.4,278.7 1637.3,278.2 1653.0,278.3"/><path d="M1501.8,276.4 L1494.4,388.0 L1628.2,389.5 L1631.2,276.4"/><path d="M1515.8,368.8 C1515.5,366.1 1514.4,357.7 1514.1,352.5 C1513.8,347.3 1513.3,342.4 1514.1,337.7 C1514.9,333.0 1516.5,328.0 1518.8,324.4 C1521.1,320.8 1524.5,318.1 1527.7,316.3 C1530.9,314.5 1534.5,313.4 1538.0,313.8 C1541.5,314.2 1545.7,315.8 1548.4,318.5 C1551.1,321.2 1553.2,326.1 1554.3,330.3 C1555.4,334.5 1555.5,338.9 1555.0,343.6 C1554.5,348.3 1552.6,354.2 1551.3,358.4 C1550.0,362.6 1547.6,367.1 1546.9,368.8 Z"/><path d="M1517.3,343.6 L1552.1,345.1"/><path d="M1541.0,315.5 L1533.6,368.0"/><path d="M1578.0,388.0 C1578.2,384.1 1578.3,371.1 1579.4,364.3 C1580.5,357.5 1583.7,350.1 1584.6,347.3 L1612,349.6  C1612.2,351.1 1614.0,352.0 1613.4,358.4 C1612.8,364.8 1609.2,383.1 1608.3,388.0"/><path d="M1615.7,201.7 C1616.5,199.6 1619.0,191.3 1620.8,189.1 C1622.6,186.9 1624.7,188.0 1626.7,188.4 C1628.7,188.8 1630.6,190.3 1632.7,191.3 C1634.8,192.3 1638.1,192.8 1639.3,194.3 C1640.5,195.8 1640.7,197.5 1640.1,200.2 C1639.5,202.9 1637.0,205.7 1635.6,210.6 C1634.2,215.5 1632.5,226.6 1631.9,229.8"/><path d="M1627.5,187.6 C1627.1,186.2 1625.2,182.3 1625.3,179.5 C1625.4,176.7 1626.2,172.4 1628.2,170.6 C1630.2,168.8 1633.5,168.5 1637.1,168.4 C1640.7,168.3 1647.6,169.7 1649.7,169.9 M1649.7,169.9 C1649.0,168.1 1646.1,162.2 1645.7,158.8 C1645.3,155.4 1645.9,151.3 1647.4,149.2 C1648.9,147.0 1652.5,146.0 1654.8,145.9 C1657.1,145.8 1660.4,148.2 1661.5,148.7 M1661.5,148.7 C1661.9,146.4 1661.9,139.0 1663.7,135.1 C1665.5,131.2 1669.6,127.3 1672.6,125.5 C1675.6,123.7 1678.3,123.1 1681.5,124.0 C1684.7,124.9 1689.5,127.8 1691.8,130.7 C1694.1,133.5 1694.9,139.4 1695.5,141.1"/></g><g fill="none" stroke="#1E96C4" stroke-width="3.2" stroke-linecap="round" stroke-linejoin="round"><path d="M274.7,2324.9 L270.5,2478.6"/><path d="M274.7,2326.3 C270.4,2329.7 258.2,2337.2 249.2,2346.8 C240.2,2356.4 229.2,2369.8 220.9,2383.7 C212.6,2397.6 204.9,2416.1 199.6,2430.5 C194.3,2444.9 190.8,2463.5 189.0,2470.1 L189.0,2470.1 C193.1,2469.2 205.0,2466.2 213.8,2464.5 C222.7,2462.8 232.8,2461.1 242.1,2460.2 C251.4,2459.2 265.1,2459.0 269.7,2458.8"/><path d="M275.4,2336.9 C278.1,2339.7 285.4,2346.1 291.7,2353.9 C298.0,2361.7 306.9,2372.6 313.0,2383.7 C319.1,2394.8 324.7,2408.1 328.6,2420.5 C332.5,2432.9 335.1,2451.8 336.4,2458.1 L336.4,2458.1 C332.5,2456.4 320.4,2450.6 313.0,2448.2 C305.6,2445.8 298.4,2444.7 291.7,2443.9 C285.0,2443.1 275.8,2443.3 272.6,2443.2"/><path d="M157.8,2482.2 L371.8,2478.6 L344.1,2519.7 Q339,2523.5 333,2523.5 L181,2524 Q174,2522 170,2513 Z"/></g><g fill="none" stroke="#C9478A" stroke-width="3.5" stroke-linecap="round" stroke-linejoin="round"><path d="M603.3,2465.6 C601.4,2461.2 596.2,2447.4 591.7,2439.4 C587.2,2431.4 582.7,2424.2 576.3,2417.8 C569.9,2411.4 561.2,2405.0 553.2,2400.9 C545.2,2396.8 537.3,2394.9 528.6,2393.2 C519.9,2391.5 509.6,2390.7 500.9,2390.9 C492.2,2391.2 484.2,2391.5 476.2,2394.7 C468.2,2397.9 458.8,2404.4 453.1,2410.1 C447.5,2415.8 444.3,2421.7 442.3,2428.6 C440.3,2435.5 439.8,2443.0 441.1,2451.7 C442.4,2460.4 445.4,2472.3 450.0,2481.0 C454.6,2489.7 460.3,2497.9 468.5,2504.1 C476.7,2510.3 487.8,2514.8 499.3,2518.0 C510.9,2521.2 526.2,2523.2 537.8,2523.4 C549.3,2523.7 558.3,2521.9 568.6,2519.5 C578.9,2517.1 591.7,2512.8 599.4,2508.7 C607.1,2504.6 610.3,2500.7 614.8,2494.9 C619.3,2489.1 624.5,2477.6 626.4,2474.1"/><path d="M626.4,2474.1 C630.1,2474.3 641.5,2476.9 648.7,2475.6 C655.9,2474.3 666.0,2467.9 669.5,2466.4 L669.5,2466.4 C666.0,2464.6 655.6,2457.5 648.7,2455.6 C641.8,2453.7 631.4,2454.9 627.9,2454.8"/><path d="M627.9,2454.8 C628.0,2453.0 629.1,2448.4 628.7,2444.0 C628.3,2439.6 627.4,2433.7 625.6,2428.6 C623.8,2423.5 619.2,2415.8 617.9,2413.2 M617.9,2413.2 C616.4,2415.3 611.0,2420.5 608.7,2425.6 C606.4,2430.7 605.0,2437.3 604.1,2444.0 C603.2,2450.7 603.4,2462.0 603.3,2465.6"/><path d="M500.1,2390.1 C499.7,2385.0 497.9,2368.3 497.8,2359.3 C497.7,2350.3 498.3,2343.1 499.3,2336.2 C500.3,2329.3 501.8,2322.4 503.9,2317.7 C505.9,2312.9 509.2,2309.8 511.6,2307.7 C514.1,2305.6 516.3,2305.3 518.6,2305.4 C520.9,2305.5 523.7,2306.6 525.5,2308.5 C527.3,2310.4 528.8,2315.6 529.4,2317.0"/><path d="M497.8,2363.9 C497.3,2362.6 496.2,2358.5 494.7,2356.2 C493.1,2353.9 491.1,2351.4 488.5,2350.1 C485.9,2348.8 482.1,2348.2 479.3,2348.5 C476.5,2348.8 473.5,2350.0 471.6,2351.6 C469.7,2353.2 468.2,2356.1 467.7,2357.8 C467.2,2359.5 468.4,2361.0 468.5,2361.6"/><path d="M467.0,2441.0 C467.3,2440.1 467.8,2436.8 468.8,2435.6 C469.8,2434.4 471.7,2433.3 473.1,2433.6 C474.5,2433.8 476.1,2435.5 477.0,2437.1 C477.9,2438.7 478.2,2442.3 478.5,2443.3"/><path d="M450.0,2481.0 C453.1,2481.7 462.3,2485.4 468.5,2484.9 C474.7,2484.4 483.9,2479.1 487.0,2477.9"/></g><g fill="none" stroke="#342A76" stroke-width="4.5" stroke-linecap="round" stroke-linejoin="round"><path d="M826.3,2373.0 C832.9,2373.3 841.6,2374.2 847.5,2377.0 C853.4,2379.8 858.3,2384.4 861.7,2389.8 C865.1,2395.2 866.9,2402.8 868.1,2409.6 C869.3,2416.4 868.4,2423.8 868.8,2430.9 C869.1,2438.0 870.7,2445.2 870.2,2452.1 C869.7,2458.9 869.8,2467.0 866.0,2472.0 C862.2,2477.0 853.6,2479.8 847.5,2481.9 C841.4,2484.0 836.2,2484.9 829.1,2484.7 C822.0,2484.5 812.1,2482.9 805.0,2480.5 C797.9,2478.1 792.3,2475.2 786.6,2470.5 C780.9,2465.8 774.7,2459.4 771.0,2452.1 C767.3,2444.8 764.4,2434.9 764.2,2426.6 C764.0,2418.3 765.6,2409.6 769.6,2402.5 C773.6,2395.4 781.6,2388.7 788.0,2384.1 C794.4,2379.5 801.5,2376.8 807.9,2374.9 C814.3,2373.1 819.7,2372.7 826.3,2373.0Z"/><path d="M867.4,2419.5 C866.7,2423.1 866.4,2435.1 863.1,2440.8 C859.8,2446.5 853.2,2451.2 847.5,2453.5 C841.8,2455.8 835.2,2455.8 829.1,2454.9 C823.0,2454.0 815.3,2451.9 810.7,2447.9 C806.1,2443.9 802.7,2436.6 801.5,2430.9 C800.3,2425.2 800.9,2418.6 803.6,2413.9 C806.3,2409.2 812.8,2404.6 817.8,2402.5 C822.8,2400.4 828.9,2399.9 833.4,2401.1 C837.9,2402.3 842.6,2405.8 844.7,2409.6 C846.8,2413.4 847.1,2419.8 846.1,2423.8 C845.1,2427.8 841.8,2431.5 839.0,2433.7 C836.2,2435.9 831.7,2437.7 829.1,2437.2 C826.5,2436.7 824.3,2433.6 823.5,2430.9 C822.7,2428.2 822.8,2423.4 824.2,2420.9 C825.6,2418.4 830.7,2416.8 832.0,2416.0"/><path d="M868.8,2416.7 C870.7,2415.0 874.7,2409.3 880.1,2406.8 C885.5,2404.3 894.5,2401.8 901.4,2401.8 C908.2,2401.8 915.8,2403.6 921.2,2406.8 C926.6,2410.0 931.4,2416.0 934.0,2420.9 C936.6,2425.8 937.5,2431.8 936.8,2436.5 C936.1,2441.2 934.0,2445.5 929.7,2449.3 C925.5,2453.1 917.9,2456.7 911.3,2459.2 C904.7,2461.7 897.0,2463.2 890.1,2464.2 C883.2,2465.1 873.5,2464.8 870.2,2464.9"/><path d="M900.7,2428.7 C901.1,2427.6 901.7,2423.8 902.8,2422.4 C903.9,2421.0 905.7,2420.2 907.1,2420.2 C908.5,2420.2 910.2,2420.9 911.3,2422.4 C912.3,2423.9 913.0,2428.2 913.4,2429.4"/><path d="M769.6,2454.9 C766.0,2456.1 755.1,2459.6 748.3,2462.0 C741.4,2464.4 732.0,2467.2 728.5,2469.1 C725.0,2471.0 726.1,2472.2 727.1,2473.4 C728.1,2474.6 728.3,2476.0 734.2,2476.2 C740.1,2476.4 753.3,2475.3 762.5,2474.8 C771.7,2474.3 784.9,2473.6 789.4,2473.4"/></g></svg><div class="lg1">CREATED BY</div><div class="lg4" style="left:1339.3px;transform:scale(0.944,1)">T</div><div class="lg4" style="left:1368.1px;transform:scale(1.043,1.09)">e</div><div class="lg4" style="left:1399.2px;transform:scale(1.064,1.09)">m</div><div class="lg4" style="left:1452.1px;transform:scale(1.019,1.09)">p</div><div class="lg4" style="left:1485.8px;transform:scale(0.989,1)">l</div><div class="lg4" style="left:1499.0px;transform:scale(0.848,1.09)">a</div><div class="lg4" style="left:1529.6px;transform:scale(0.737,1)">t</div><div class="lg4" style="left:1542.6px;transform:scale(1.043,1.09)">e</div><div class="lg3" style="left:1577.1px;transform:scaleX(0.928)">L</div><div class="lg3" style="left:1652.2px;transform:scaleX(0.958)">B</div>
<svg style="position:absolute;left:0;top:0" width="1810" height="2560" viewBox="0 0 1810 2560"><path fill="#E1252B" d="M1612.9,2484.2 L1627.2,2441.4 L1638.6,2441.4 L1653.6,2484.2 L1644.2,2484.2 L1641.4,2475.5 L1624.6,2475.5 L1621.9,2484.2 Z"/><path fill="#fff" d="M1628.6,2446.6 L1637.0,2446.6 L1637.0,2447.8 L1636.2,2447.8 L1636.2,2454.2 L1643.0,2470.4 L1622.4,2470.4 L1629.4,2454.2 L1629.4,2447.8 L1628.6,2447.8 Z"/><path fill="#E1252B" d="M1630.8,2448.6 L1634.8,2448.6 L1634.8,2454.6 L1640.6,2469.0 L1624.8,2469.0 L1630.8,2454.6 Z"/><circle cx="1632.5" cy="2456" r="0.9" fill="#fff"/><circle cx="1631.3" cy="2462.5" r="0.8" fill="#fff"/><circle cx="1635" cy="2464" r="0.8" fill="#fff"/></svg>
</body></html>
